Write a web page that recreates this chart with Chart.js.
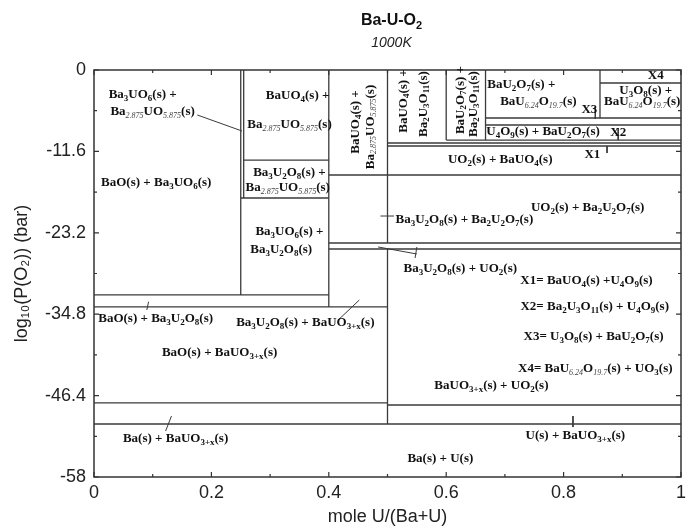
<!DOCTYPE html>
<html>
<head>
<meta charset="utf-8">
<script src="https://cdn.jsdelivr.net/npm/chart.js@4.4.1/dist/chart.umd.min.js"></script>
<style>
  html, body { margin: 0; padding: 0; background: #ffffff; }
  #plot { display: block; }
</style>
</head>
<body>
<canvas id="plot" width="696" height="528"></canvas>
<script>
// Composition axis: mole fraction U/(Ba+U); oxygen axis: log10 P(O2) in bar
const xTickValues = [0, 0.2, 0.4, 0.6, 0.8, 1];
const xTickLabels = ['0', '0.2', '0.4', '0.6', '0.8', '1'];
const yTickValues = [0, -11.6, -23.2, -34.8, -46.4, -58];
const yTickLabels = ['0', '-11.6', '-23.2', '-34.8', '-46.4', '-58'];

// Vertical phase boundaries (fixed composition) with their log P(O2) extent
const vBoundaryX      = [0.25,   0.255,  0.4,    0.5,    0.5,    0.6,   0.667, 0.862];
const vBoundaryTop    = [0,      0,      0,      0,      -25.51, 0,     0,     0];
const vBoundaryBottom = [-32.06, -18.24, -33.77, -24.65, -50.45, -9.98, -9.98, -6.84];

// Horizontal phase boundaries (fixed log P(O2)) with their composition extent
const hBoundaryY    = [-1.85, -6.84, -7.84, -9.98, -10.40, -10.83, -12.83, -14.96, -18.24, -24.65, -25.51, -32.06, -33.77, -47.45, -47.74, -50.45];
const hBoundaryFrom = [0.862, 0.667, 0.667, 0.6,   0.5,    0.5,    0.255,  0.4,    0.25,   0.4,    0.4,    0,      0,      0,      0.5,    0];
const hBoundaryTo   = [1,     1,     1,     1,     1,      1,      0.4,    1,      0.4,    1,      1,      0.4,    0.5,    0.5,    1,      1];

// Leader lines tying labels to narrow fields
const leaderStart = [[0.176, -6.41], [0.093, -33.02], [0.416, -35.63], [0.488, -20.81], [0.484, -25.22], [0.550, -25.22], [0.132, -49.31], [0.816, -49.31], [0.854, -5.27], [0.893, -8.27], [0.874, -10.83]];
const leaderEnd   = [[0.252, -8.69], [0.090, -34.20], [0.452, -32.78], [0.511, -20.81], [0.550, -26.22], [0.547, -26.79], [0.122, -51.45], [0.816, -50.88], [0.854, -6.98], [0.893, -9.98], [0.874, -11.83]];

// Field labels: [text, composition, log P(O2)]; _{..} marks a subscript
const centerLabels = [
  ['Ba_{3}U_{2}O_{8}(s) +', 0.333, -14.68],
  ['Ba_{2.875}UO_{5.875}(s)', 0.330, -16.82],
  ['BaO(s) + Ba_{3}UO_{6}(s)', 0.106, -16.10],
  ['Ba_{3}UO_{6}(s) +', 0.333, -23.09],
  ['Ba_{3}U_{2}O_{8}(s)', 0.319, -25.65],
  ['BaO(s) + Ba_{3}U_{2}O_{8}(s)', 0.105, -35.48],
  ['Ba_{3}U_{2}O_{8}(s) + BaUO_{3+x}(s)', 0.360, -36.05],
  ['BaO(s) + BaUO_{3+x}(s)', 0.214, -40.33],
  ['Ba(s) + BaUO_{3+x}(s)', 0.139, -52.58],
  ['BaU_{6.24}O_{19.7}(s)', 0.757, -4.56],
  ['X3', 0.844, -5.70],
  ['X4', 0.957, -0.86],
  ['U_{3}O_{8}(s) +', 0.940, -2.99],
  ['BaU_{6.24}O_{19.7}(s)', 0.934, -4.56],
  ['U_{4}O_{9}(s) + BaU_{2}O_{7}(s)', 0.765, -8.84],
  ['X2', 0.893, -8.98],
  ['X1', 0.849, -12.11],
  ['UO_{2}(s) + BaUO_{4}(s)', 0.692, -12.83],
  ['UO_{2}(s) + Ba_{2}U_{2}O_{7}(s)', 0.841, -19.67],
  ['Ba_{3}U_{2}O_{8}(s) + Ba_{2}U_{2}O_{7}(s)', 0.631, -21.38],
  ['Ba_{3}U_{2}O_{8}(s) + UO_{2}(s)', 0.624, -28.36],
  ['X1= BaUO_{4}(s) +U_{4}O_{9}(s)', 0.839, -30.07],
  ['X2= Ba_{2}U_{3}O_{11}(s) + U_{4}O_{9}(s)', 0.853, -33.77],
  ['X3= U_{3}O_{8}(s) + BaU_{2}O_{7}(s)', 0.851, -38.05],
  ['X4= BaU_{6.24}O_{19.7}(s) + UO_{3}(s)', 0.854, -42.61],
  ['BaUO_{3+x}(s) + UO_{2}(s)', 0.677, -45.03],
  ['U(s) + BaUO_{3+x}(s)', 0.820, -52.16],
  ['Ba(s) + U(s)', 0.590, -55.43]
];
const leftLabels = [
  ['Ba_{3}UO_{6}(s) +', 0.025, -3.56],
  ['Ba_{2.875}UO_{5.875}(s)', 0.028, -5.99],
  ['BaU_{2}O_{7}(s) +', 0.670, -2.14]
];
const rightLabels = [
  ['BaUO_{4}(s) +', 0.401, -3.71],
  ['Ba_{2.875}UO_{5.875}(s)', 0.405, -7.84]
];
const verticalLabels = [
  ['BaUO_{4}(s) +', 0.445, -7.41],
  ['Ba_{2.875}UO_{5.875}(s)', 0.471, -8.12],
  ['BaUO_{4}(s) +', 0.527, -4.42],
  ['Ba_{2}U_{3}O_{11}(s)', 0.561, -4.85],
  ['BaU_{2}O_{7}(s) +', 0.624, -4.28],
  ['Ba_{2}U_{3}O_{11}(s)', 0.646, -4.85]
];

// ---- rich text with subscripts ----
function parseRich(str) {
  const segs = [];
  const re = /_\{([^}]*)\}/g;
  let last = 0, m;
  while ((m = re.exec(str))) {
    if (m.index > last) segs.push({ t: str.slice(last, m.index), sub: false });
    segs.push({ t: m[1], sub: true });
    last = re.lastIndex;
  }
  if (last < str.length) segs.push({ t: str.slice(last), sub: false });
  return segs;
}

function drawRich(ctx, str, x, y, align, style) {
  const segs = parseRich(str);
  const widths = segs.map(s => {
    ctx.font = s.sub ? style.sub(s.t) : style.main;
    return ctx.measureText(s.t).width;
  });
  const total = widths.reduce((a, b) => a + b, 0);
  let cx = align === 'left' ? x : align === 'right' ? x - total : x - total / 2;
  ctx.textAlign = 'left';
  ctx.textBaseline = 'middle';
  segs.forEach((s, i) => {
    ctx.font = s.sub ? style.sub(s.t) : style.main;
    ctx.fillStyle = s.sub && s.t.indexOf('.') >= 0 ? style.fadedColor : style.color;
    ctx.fillText(s.t, cx, s.sub ? y + style.drop : y);
    cx += widths[i];
  });
}

const fieldStyle = {
  main: 'bold 13px "Liberation Serif"',
  sub: t => (t.indexOf('.') >= 0 ? 'italic 8px "Liberation Serif"' : 'bold 9px "Liberation Serif"'),
  drop: 3.5,
  color: '#111111',
  fadedColor: '#444444'
};
const titleStyle = {
  main: 'bold 16px "Liberation Sans"',
  sub: () => 'bold 11px "Liberation Sans"',
  drop: 5,
  color: '#111111',
  fadedColor: '#111111'
};

const headingPlugin = {
  id: 'heading',
  afterDraw(chart) {
    const { ctx, chartArea } = chart;
    const cx = (chartArea.left + chartArea.right) / 2 + 4;
    ctx.save();
    drawRich(ctx, 'Ba-U-O_{2}', cx, 21, 'center', titleStyle);
    ctx.font = 'italic 14px "Liberation Sans"';
    ctx.fillStyle = '#222222';
    ctx.textAlign = 'center';
    ctx.textBaseline = 'middle';
    ctx.fillText('1000K', cx, 43);
    ctx.restore();
  }
};

const framePlugin = {
  id: 'frame',
  afterDatasetsDraw(chart) {
    const { ctx, chartArea: a, scales } = chart;
    const xs = scales.x, ys = scales.y;
    ctx.save();
    ctx.strokeStyle = '#333333';
    ctx.lineWidth = 1.5;
    ctx.strokeRect(a.left, a.top, a.right - a.left, a.bottom - a.top);
    ctx.lineWidth = 1.2;
    const major = 5, minor = 3;
    const xMinor = xTickValues.slice(1).map((v, i) => (v + xTickValues[i]) / 2);
    const yMinor = yTickValues.slice(1).map((v, i) => (v + yTickValues[i]) / 2);
    ctx.beginPath();
    const xMark = (v, len) => {
      const px = xs.getPixelForValue(v);
      ctx.moveTo(px, a.bottom); ctx.lineTo(px, a.bottom - len);
      ctx.moveTo(px, a.top); ctx.lineTo(px, a.top + len);
    };
    const yMark = (v, len) => {
      const py = ys.getPixelForValue(v);
      ctx.moveTo(a.left, py); ctx.lineTo(a.left + len, py);
      ctx.moveTo(a.right, py); ctx.lineTo(a.right - len, py);
    };
    xTickValues.forEach(v => xMark(v, major));
    xMinor.forEach(v => xMark(v, minor));
    yTickValues.forEach(v => yMark(v, major));
    yMinor.forEach(v => yMark(v, minor));
    ctx.stroke();
    ctx.restore();
  }
};

const fieldLabelPlugin = {
  id: 'fieldLabels',
  afterDatasetsDraw(chart) {
    const { ctx, scales } = chart;
    const xs = scales.x, ys = scales.y;
    ctx.save();
    const place = (list, align) => list.forEach(([t, x, y]) =>
      drawRich(ctx, t, xs.getPixelForValue(x), ys.getPixelForValue(y), align, fieldStyle));
    place(centerLabels, 'center');
    place(leftLabels, 'left');
    place(rightLabels, 'right');
    verticalLabels.forEach(([t, x, y]) => {
      ctx.save();
      ctx.translate(xs.getPixelForValue(x), ys.getPixelForValue(y));
      ctx.rotate(-Math.PI / 2);
      drawRich(ctx, t, 0, 0, 'center', fieldStyle);
      ctx.restore();
    });
    ctx.restore();
  }
};

// ---- datasets: one two-point segment per boundary or leader ----
const segments = [];
vBoundaryX.forEach((x, i) => segments.push({
  data: [{ x: x, y: vBoundaryTop[i] }, { x: x, y: vBoundaryBottom[i] }], borderWidth: 1.3
}));
hBoundaryY.forEach((y, i) => segments.push({
  data: [{ x: hBoundaryFrom[i], y: y }, { x: hBoundaryTo[i], y: y }], borderWidth: 1.3
}));
leaderStart.forEach((p, i) => segments.push({
  data: [{ x: p[0], y: p[1] }, { x: leaderEnd[i][0], y: leaderEnd[i][1] }], borderWidth: 1
}));

const datasets = segments.map(s => Object.assign({
  showLine: true,
  pointRadius: 0,
  pointHoverRadius: 0,
  borderColor: '#3a3a3a',
  fill: false,
  tension: 0
}, s));

const axisFont = { family: '"Liberation Sans", Arial, sans-serif', size: 18 };

new Chart(document.getElementById('plot'), {
  type: 'scatter',
  data: { datasets: datasets },
  options: {
    responsive: false,
    devicePixelRatio: 1,
    animation: false,
    events: [],
    layout: { padding: { top: 70, right: 15, bottom: 0, left: 0 } },
    plugins: {
      legend: { display: false },
      tooltip: { enabled: false },
      title: { display: false }
    },
    scales: {
      x: {
        type: 'linear',
        position: 'bottom',
        min: 0,
        max: 1,
        afterBuildTicks: s => { s.ticks = xTickValues.map(v => ({ value: v })); },
        afterFit: s => { s.height = 51; },
        ticks: {
          callback: (v, i) => xTickLabels[i],
          font: axisFont,
          color: '#222222',
          padding: 5,
          maxRotation: 0,
          autoSkip: false
        },
        grid: { display: false, drawTicks: false },
        border: { display: false },
        title: {
          display: true,
          text: 'mole U/(Ba+U)',
          font: axisFont,
          color: '#222222',
          padding: { top: 0, bottom: 0 }
        }
      },
      y: {
        type: 'linear',
        position: 'left',
        min: -58,
        max: 0,
        afterBuildTicks: s => { s.ticks = yTickValues.map(v => ({ value: v })); },
        afterFit: s => { s.width = 94; },
        ticks: {
          callback: (v, i) => yTickLabels[i],
          font: axisFont,
          color: '#222222',
          padding: 8,
          autoSkip: false
        },
        grid: { display: false, drawTicks: false },
        border: { display: false },
        title: {
          display: true,
          text: 'log\u2081\u2080(P(O\u2082)) (bar)',
          font: axisFont,
          color: '#222222',
          padding: { top: 11, bottom: 11 }
        }
      }
    }
  },
  plugins: [framePlugin, fieldLabelPlugin, headingPlugin]
});
</script>
</body>
</html>
